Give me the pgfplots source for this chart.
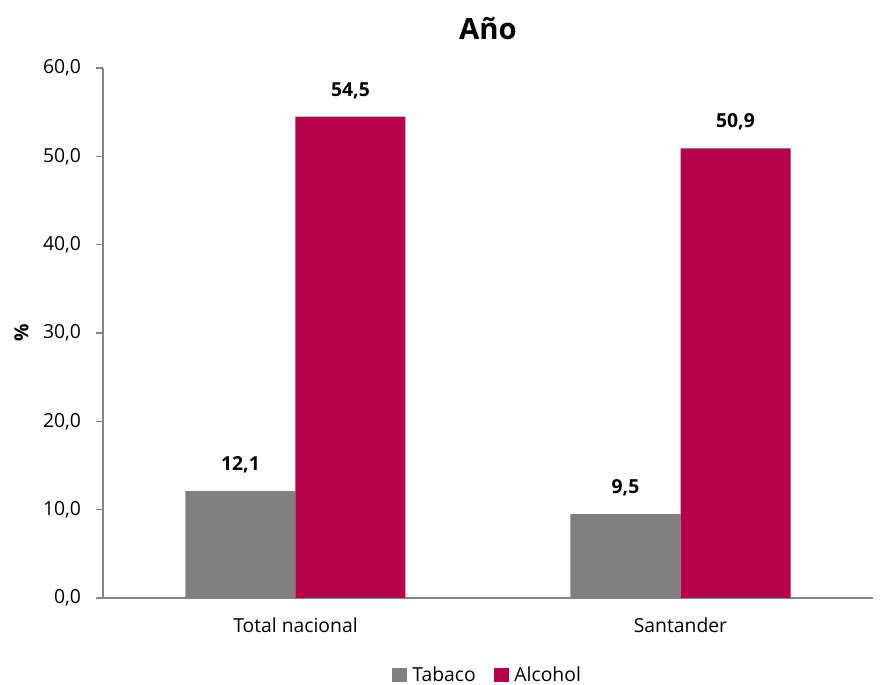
\documentclass[border=0pt]{standalone}
\usepackage{pgfplots}
\pgfplotsset{compat=1.18}
\usepackage{fontspec}
\setmainfont{Open Sans}
\definecolor{tabaco}{HTML}{808080}
\definecolor{alcohol}{HTML}{B7004A}
\definecolor{axisgray}{HTML}{868686}

\begin{document}
\begin{tikzpicture}
\begin{axis}[
    at={(0,0)}, anchor=south west,
    scale only axis,
    width=577.5pt, height=397.5pt,
    font=\fontsize{14.5}{17}\selectfont,
    /pgf/number format/assume math mode=true,
    axis lines=left,
    axis line style={draw=axisgray, line width=0.9pt, -},
    ymin=0, ymax=60,
    ytick={0,10,...,60},
    yticklabel style={xshift=-8pt, /pgf/number format/.cd, fixed, fixed zerofill, precision=1, use comma},
    xmin=-0.5, xmax=1.5,
    xtick={0,1},
    xticklabels={Total nacional, Santander},
    major x tick style={draw=none},
    extra x ticks={-0.5,0.5,1.5},
    extra x tick labels={},
    extra x tick style={major tick length=7pt, tick style={draw=axisgray, line width=0.9pt}},
    tick align=outside,
    major y tick style={draw=axisgray, line width=0.9pt},
    major tick length=5pt,
    xticklabel style={yshift=-6pt},
    ylabel={\textbf{\%}},
    ylabel style={yshift=4pt},
    title={\fontsize{22}{25}\selectfont\bfseries Año},
    title style={at={(0.5,1.06)}, anchor=center},
    ybar=0pt,
    bar width=82.5pt,
    nodes near coords,
    every node near coord/.append style={font=\fontsize{14.5}{17}\selectfont\bfseries, yshift=10pt,
        /pgf/number format/.cd, fixed, fixed zerofill, precision=1, use comma, assume math mode=true},
    legend columns=2,
    legend style={at={(0.5,-0.145)}, anchor=center, draw=none,
        /tikz/every odd column/.append style={column sep=2pt},
        /tikz/every even column/.append style={column sep=12pt}},
    legend image code/.code={\fill[#1] (0pt,-5.5pt) rectangle (11pt,5.5pt);},
]
\addplot[fill=tabaco, draw=none] coordinates {(0,12.1) (1,9.5)};
\addplot[fill=alcohol, draw=none] coordinates {(0,54.5) (1,50.9)};
\legend{Tabaco, Alcohol}
\end{axis}
\pgfresetboundingbox
\path (-77.25pt,-65.25pt) rectangle (585pt,448.5pt);
\end{tikzpicture}
\end{document}
